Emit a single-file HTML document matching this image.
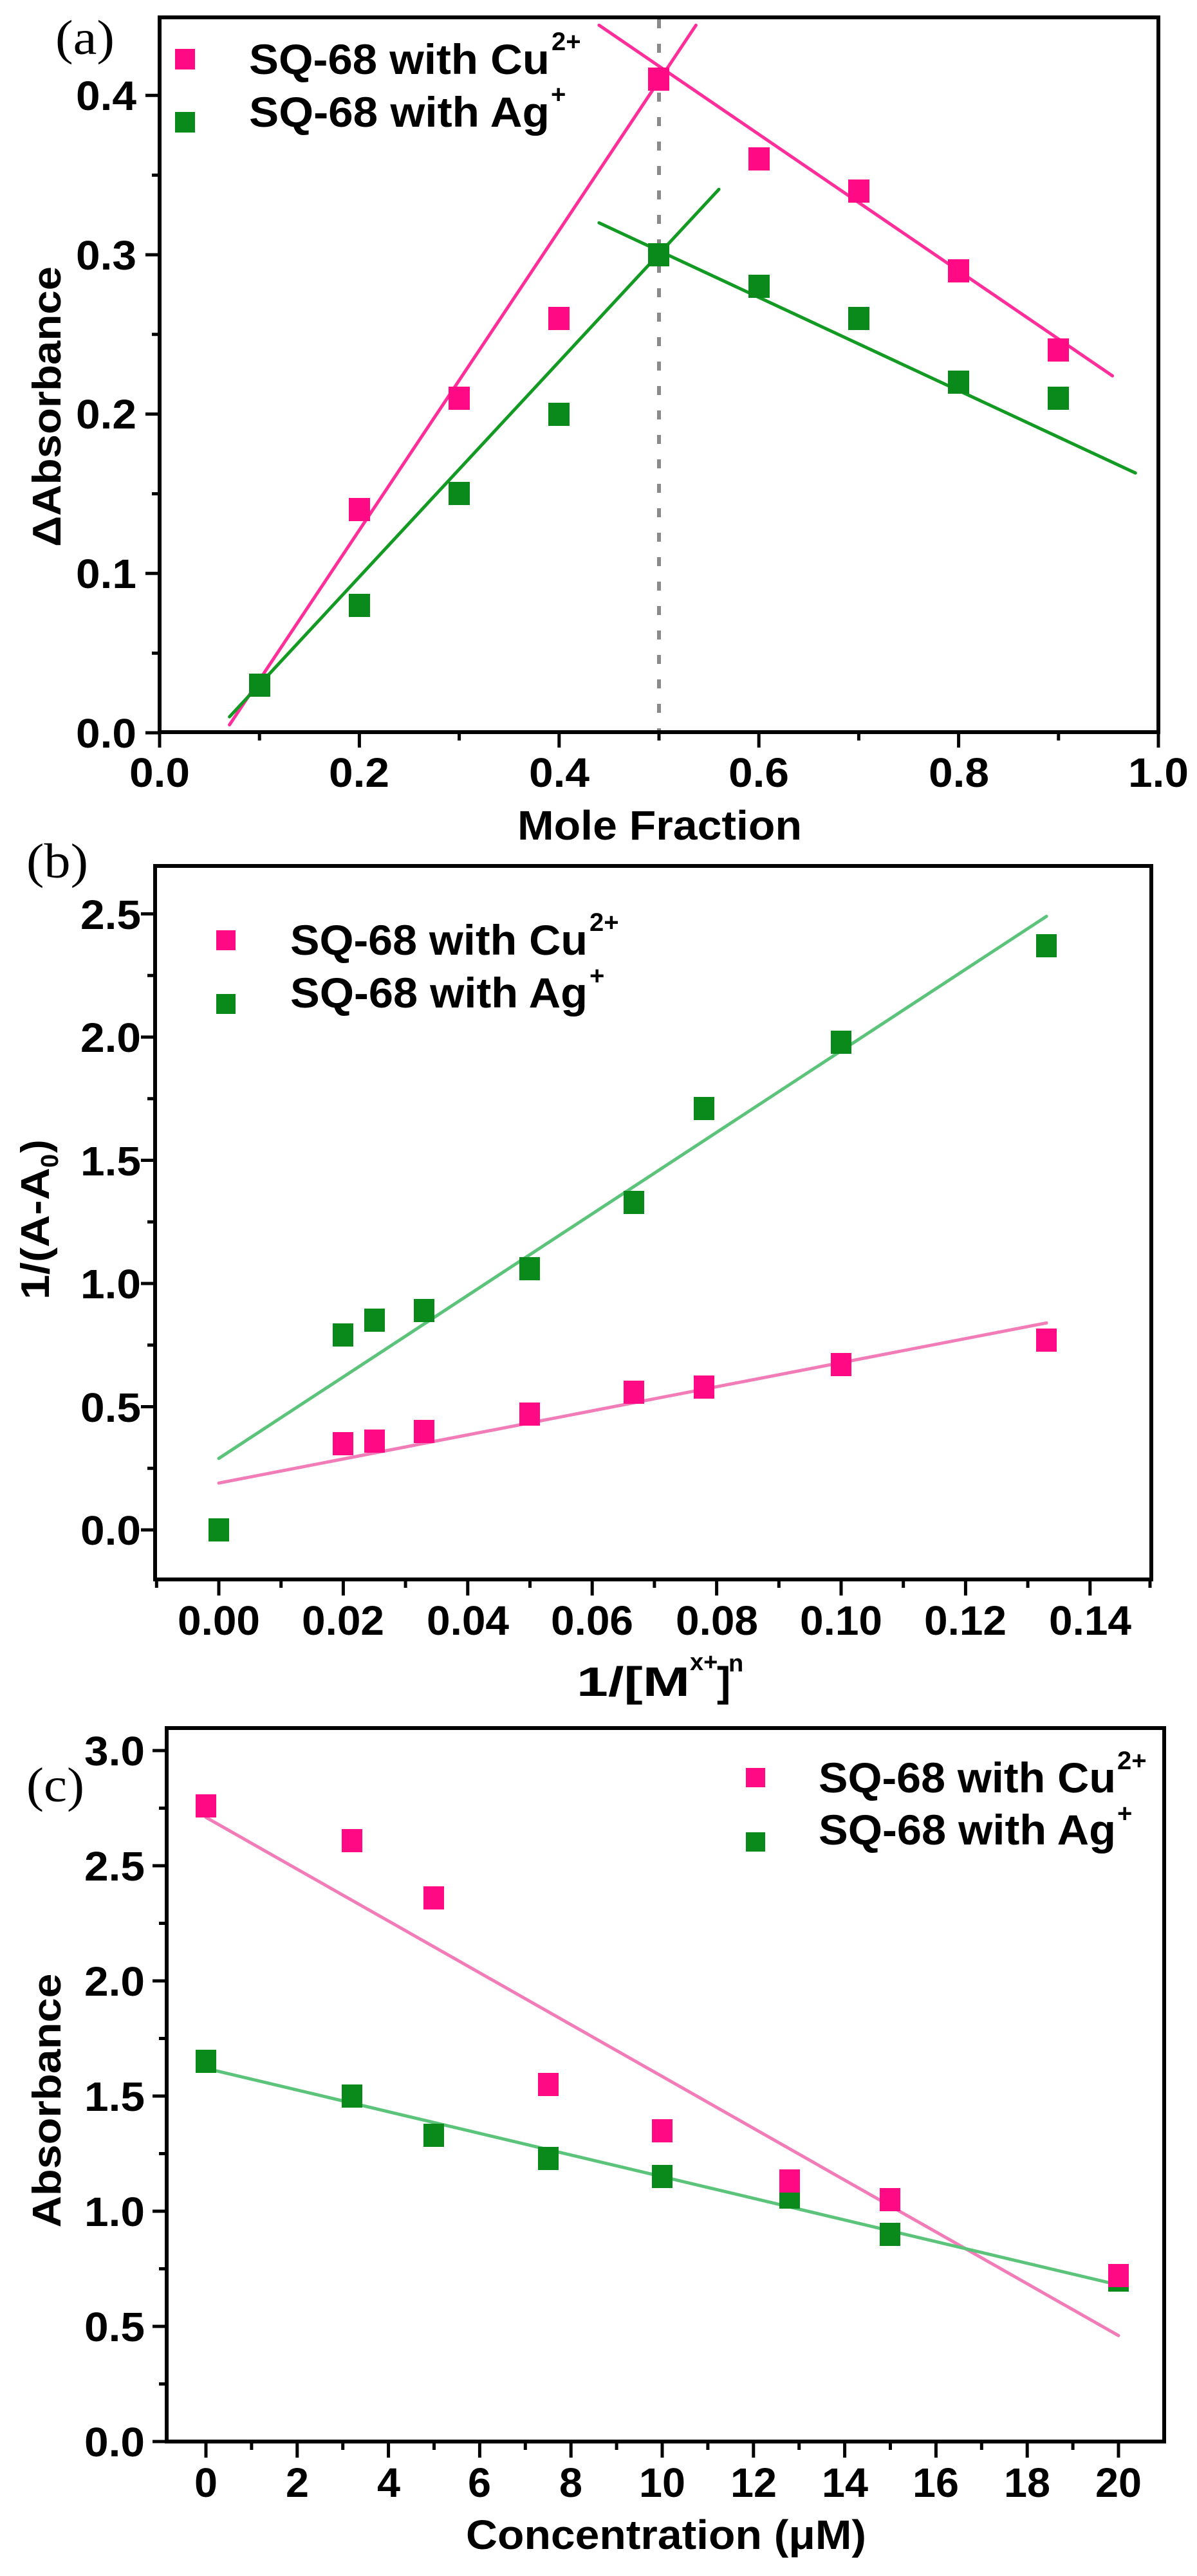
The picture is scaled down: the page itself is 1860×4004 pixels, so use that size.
<!DOCTYPE html>
<html><head><meta charset="utf-8"><style>
html,body{margin:0;padding:0;background:#fff}
svg{display:block}
.t{font-family:"Liberation Sans",sans-serif;font-weight:bold;fill:#000}
.s{font-family:"Liberation Serif",serif;fill:#000}
</style></head><body>
<svg width="1860" height="4004" viewBox="0 0 1860 4004" xmlns="http://www.w3.org/2000/svg">
<rect width="1860" height="4004" fill="#fff"/>

<!-- ================= PANEL A ================= -->
<text class="s" x="86" y="84" font-size="76" textLength="92" lengthAdjust="spacingAndGlyphs">(a)</text>
<line x1="1024" y1="30" x2="1024" y2="1136" stroke="#8a8a8a" stroke-width="6" stroke-dasharray="14 24"/>
<g stroke-linecap="round" stroke-width="5">
<line x1="356.6" y1="1126.6" x2="1081.4" y2="39.2" stroke="#ff2e9a"/>
<line x1="930.9" y1="39.2" x2="1728.6" y2="584.2" stroke="#ff2e9a"/>
<line x1="356.6" y1="1114.2" x2="1117.1" y2="294.3" stroke="#129a22"/>
<line x1="930.9" y1="346.4" x2="1764.3" y2="735.2" stroke="#129a22"/>
</g>
<g fill="#ff0a84">
<rect x="542" y="774" width="33" height="36"/><rect x="697" y="601" width="33" height="36"/>
<rect x="852" y="477" width="33" height="36"/><rect x="1007" y="105" width="33" height="36"/>
<rect x="1163" y="229" width="33" height="36"/><rect x="1318" y="279" width="33" height="36"/>
<rect x="1473" y="403" width="33" height="36"/><rect x="1628" y="526" width="33" height="36"/>
</g>
<g fill="#0a8a1a">
<rect x="387" y="1047" width="33" height="36"/><rect x="542" y="923" width="33" height="36"/>
<rect x="697" y="749" width="33" height="36"/><rect x="852" y="626" width="33" height="36"/>
<rect x="1007" y="378" width="33" height="36"/><rect x="1163" y="427" width="33" height="36"/>
<rect x="1318" y="477" width="33" height="36"/><rect x="1473" y="576" width="33" height="36"/>
<rect x="1628" y="601" width="33" height="36"/>
</g>
<rect x="248" y="27" width="1552" height="1111" fill="none" stroke="#000" stroke-width="6"/>
<path stroke="#000" stroke-width="5" fill="none" d="M226 1139H248M226 891.3H248M226 643.6H248M226 396H248M226 148.2H248M236 1015.2H248M236 767.5H248M236 519.8H248M236 272.2H248
M248 1139V1162M558.4 1139V1162M868.8 1139V1162M1179.2 1139V1162M1489.6 1139V1162M1800 1139V1162M403.2 1139V1151M713.6 1139V1151M1024 1139V1151M1334.4 1139V1151M1644.8 1139V1151"/>
<g class="t" font-size="64" text-anchor="end">
<text x="212" y="1162" textLength="94" lengthAdjust="spacingAndGlyphs">0.0</text>
<text x="212" y="914" textLength="94" lengthAdjust="spacingAndGlyphs">0.1</text>
<text x="212" y="666" textLength="94" lengthAdjust="spacingAndGlyphs">0.2</text>
<text x="212" y="419" textLength="94" lengthAdjust="spacingAndGlyphs">0.3</text>
<text x="212" y="171" textLength="94" lengthAdjust="spacingAndGlyphs">0.4</text>
</g>
<g class="t" font-size="64" text-anchor="middle">
<text x="248" y="1223" textLength="94" lengthAdjust="spacingAndGlyphs">0.0</text>
<text x="558" y="1223" textLength="94" lengthAdjust="spacingAndGlyphs">0.2</text>
<text x="869" y="1223" textLength="94" lengthAdjust="spacingAndGlyphs">0.4</text>
<text x="1179" y="1223" textLength="94" lengthAdjust="spacingAndGlyphs">0.6</text>
<text x="1490" y="1223" textLength="94" lengthAdjust="spacingAndGlyphs">0.8</text>
<text x="1800" y="1223" textLength="94" lengthAdjust="spacingAndGlyphs">1.0</text>
<text x="1025" y="1305" textLength="442" lengthAdjust="spacingAndGlyphs">Mole Fraction</text>
</g>
<text class="t" font-size="62" text-anchor="middle" transform="translate(94,632) rotate(-90)" textLength="436" lengthAdjust="spacingAndGlyphs">ΔAbsorbance</text>
<rect x="272" y="76" width="31" height="32" fill="#ff0a84"/>
<rect x="272" y="174" width="31" height="32" fill="#0a8a1a"/>
<text class="t" x="387" y="115" font-size="66" textLength="467" lengthAdjust="spacingAndGlyphs">SQ-68 with Cu</text>
<text class="t" x="857" y="78" font-size="40">2+</text>
<text class="t" x="387" y="197" font-size="66" textLength="467" lengthAdjust="spacingAndGlyphs">SQ-68 with Ag</text>
<text class="t" x="856" y="160" font-size="40">+</text>

<!-- ================= PANEL B ================= -->
<text class="s" x="41" y="1364" font-size="76" textLength="96" lengthAdjust="spacingAndGlyphs">(b)</text>
<g stroke-linecap="round" stroke-width="5">
<line x1="340" y1="2266.9" x2="1626.1" y2="1424.3" stroke="#5cc47a"/>
<line x1="340" y1="2305.2" x2="1626.1" y2="2056.3" stroke="#f27cb8"/>
</g>
<g fill="#0a8a1a">
<rect x="324" y="2360" width="32" height="36"/><rect x="517" y="2057" width="32" height="36"/>
<rect x="566" y="2034" width="32" height="36"/><rect x="643" y="2019" width="32" height="36"/>
<rect x="807" y="1954" width="32" height="36"/><rect x="969" y="1851" width="32" height="36"/>
<rect x="1078" y="1705" width="32" height="36"/><rect x="1291" y="1602" width="32" height="36"/>
<rect x="1610" y="1452" width="32" height="36"/>
</g>
<g fill="#ff0a84">
<rect x="517" y="2226" width="32" height="36"/><rect x="566" y="2222" width="32" height="36"/>
<rect x="643" y="2207" width="32" height="36"/><rect x="807" y="2180" width="32" height="36"/>
<rect x="969" y="2146" width="32" height="36"/><rect x="1078" y="2138" width="32" height="36"/>
<rect x="1291" y="2103" width="32" height="36"/><rect x="1610" y="2065" width="32" height="36"/>
</g>
<rect x="241" y="1346" width="1548" height="1109" fill="none" stroke="#000" stroke-width="6"/>
<path stroke="#000" stroke-width="5" fill="none" d="M219 2378H241M219 2186.5H241M219 1995H241M219 1803.5H241M219 1612H241M219 1420.5H241M229 2282.3H241M229 2090.8H241M229 1899.3H241M229 1707.8H241M229 1516.3H241
M340 2455V2480M533.4 2455V2480M726.8 2455V2480M920.2 2455V2480M1113.6 2455V2480M1307 2455V2480M1500.4 2455V2480M1693.8 2455V2480
M243.3 2455V2468M436.7 2455V2468M630.1 2455V2468M823.5 2455V2468M1016.9 2455V2468M1210.3 2455V2468M1403.7 2455V2468M1597.1 2455V2468M1787 2455V2468"/>
<g class="t" font-size="64" text-anchor="end">
<text x="219" y="2401" textLength="94" lengthAdjust="spacingAndGlyphs">0.0</text>
<text x="219" y="2210" textLength="94" lengthAdjust="spacingAndGlyphs">0.5</text>
<text x="219" y="2018" textLength="94" lengthAdjust="spacingAndGlyphs">1.0</text>
<text x="219" y="1827" textLength="94" lengthAdjust="spacingAndGlyphs">1.5</text>
<text x="219" y="1635" textLength="94" lengthAdjust="spacingAndGlyphs">2.0</text>
<text x="219" y="1444" textLength="94" lengthAdjust="spacingAndGlyphs">2.5</text>
</g>
<g class="t" font-size="64" text-anchor="middle">
<text x="340" y="2541" textLength="128" lengthAdjust="spacingAndGlyphs">0.00</text>
<text x="533" y="2541" textLength="128" lengthAdjust="spacingAndGlyphs">0.02</text>
<text x="727" y="2541" textLength="128" lengthAdjust="spacingAndGlyphs">0.04</text>
<text x="920" y="2541" textLength="128" lengthAdjust="spacingAndGlyphs">0.06</text>
<text x="1114" y="2541" textLength="128" lengthAdjust="spacingAndGlyphs">0.08</text>
<text x="1307" y="2541" textLength="128" lengthAdjust="spacingAndGlyphs">0.10</text>
<text x="1500" y="2541" textLength="128" lengthAdjust="spacingAndGlyphs">0.12</text>
<text x="1694" y="2541" textLength="128" lengthAdjust="spacingAndGlyphs">0.14</text>
</g>
<text class="t" x="896" y="2636" font-size="64" textLength="176" lengthAdjust="spacingAndGlyphs">1/[M</text>
<text class="t" x="1072" y="2596" font-size="38">x+</text>
<text class="t" x="1114" y="2636" font-size="64">]</text>
<text class="t" x="1132" y="2598" font-size="38">n</text>
<g transform="translate(76,2020) rotate(-90)">
<text class="t" x="0" y="0" font-size="62" textLength="205" lengthAdjust="spacingAndGlyphs">1/(A-A</text>
<text class="t" x="205" y="14" font-size="38">0</text>
<text class="t" x="228" y="0" font-size="62">)</text>
</g>
<rect x="336" y="1446" width="30" height="31" fill="#ff0a84"/>
<rect x="336" y="1545" width="30" height="31" fill="#0a8a1a"/>
<text class="t" x="451" y="1484" font-size="66" textLength="462" lengthAdjust="spacingAndGlyphs">SQ-68 with Cu</text>
<text class="t" x="916" y="1447" font-size="40">2+</text>
<text class="t" x="451" y="1566" font-size="66" textLength="462" lengthAdjust="spacingAndGlyphs">SQ-68 with Ag</text>
<text class="t" x="916" y="1530" font-size="40">+</text>

<!-- ================= PANEL C ================= -->
<text class="s" x="41" y="2800" font-size="76" textLength="90" lengthAdjust="spacingAndGlyphs">(c)</text>
<g stroke-linecap="round" stroke-width="5">
<line x1="320" y1="2824.8" x2="1738" y2="3630.3" stroke="#f27cb8"/>
<line x1="320" y1="3215" x2="1738" y2="3551.6" stroke="#5cc47a"/>
</g>
<g fill="#0a8a1a">
<rect x="304" y="3186" width="32" height="36"/><rect x="531" y="3240" width="32" height="36"/>
<rect x="658" y="3301" width="32" height="36"/><rect x="836" y="3337" width="32" height="36"/>
<rect x="1013" y="3365" width="32" height="36"/><rect x="1211" y="3397" width="32" height="36"/>
<rect x="1367" y="3455" width="32" height="36"/><rect x="1722" y="3526" width="32" height="36"/>
</g>
<g fill="#ff0a84">
<rect x="304" y="2789" width="32" height="36"/><rect x="531" y="2843" width="32" height="36"/>
<rect x="658" y="2932" width="32" height="36"/><rect x="836" y="3222" width="32" height="36"/>
<rect x="1013" y="3294" width="32" height="36"/><rect x="1211" y="3372" width="32" height="36"/>
<rect x="1367" y="3401" width="32" height="36"/><rect x="1722" y="3519" width="32" height="36"/>
</g>
<rect x="259" y="2686" width="1550" height="1109" fill="none" stroke="#000" stroke-width="6"/>
<path stroke="#000" stroke-width="5" fill="none" d="M237 3795H259M237 3616H259M237 3437H259M237 3258H259M237 3079H259M237 2900H259M237 2721H259M247 3705.5H259M247 3526.5H259M247 3347.5H259M247 3168.5H259M247 2989.5H259M247 2810.5H259
M320 3795V3820M461.8 3795V3820M603.6 3795V3820M745.4 3795V3820M887.2 3795V3820M1029 3795V3820M1170.8 3795V3820M1312.6 3795V3820M1454.4 3795V3820M1596.2 3795V3820M1738 3795V3820
M390.9 3795V3808M532.7 3795V3808M674.5 3795V3808M816.3 3795V3808M958.1 3795V3808M1099.9 3795V3808M1241.7 3795V3808M1383.5 3795V3808M1525.3 3795V3808M1667.1 3795V3808"/>
<g class="t" font-size="64" text-anchor="end">
<text x="225" y="3818" textLength="94" lengthAdjust="spacingAndGlyphs">0.0</text>
<text x="225" y="3639" textLength="94" lengthAdjust="spacingAndGlyphs">0.5</text>
<text x="225" y="3460" textLength="94" lengthAdjust="spacingAndGlyphs">1.0</text>
<text x="225" y="3281" textLength="94" lengthAdjust="spacingAndGlyphs">1.5</text>
<text x="225" y="3102" textLength="94" lengthAdjust="spacingAndGlyphs">2.0</text>
<text x="225" y="2923" textLength="94" lengthAdjust="spacingAndGlyphs">2.5</text>
<text x="225" y="2744" textLength="94" lengthAdjust="spacingAndGlyphs">3.0</text>
</g>
<g class="t" font-size="64" text-anchor="middle">
<text x="320" y="3881" textLength="36" lengthAdjust="spacingAndGlyphs">0</text>
<text x="462" y="3881" textLength="36" lengthAdjust="spacingAndGlyphs">2</text>
<text x="604" y="3881" textLength="36" lengthAdjust="spacingAndGlyphs">4</text>
<text x="745" y="3881" textLength="36" lengthAdjust="spacingAndGlyphs">6</text>
<text x="887" y="3881" textLength="36" lengthAdjust="spacingAndGlyphs">8</text>
<text x="1029" y="3881" textLength="72" lengthAdjust="spacingAndGlyphs">10</text>
<text x="1171" y="3881" textLength="72" lengthAdjust="spacingAndGlyphs">12</text>
<text x="1313" y="3881" textLength="72" lengthAdjust="spacingAndGlyphs">14</text>
<text x="1454" y="3881" textLength="72" lengthAdjust="spacingAndGlyphs">16</text>
<text x="1596" y="3881" textLength="72" lengthAdjust="spacingAndGlyphs">18</text>
<text x="1738" y="3881" textLength="72" lengthAdjust="spacingAndGlyphs">20</text>
<text x="1035" y="3962" textLength="622" lengthAdjust="spacingAndGlyphs">Concentration (μM)</text>
</g>
<text class="t" font-size="62" text-anchor="middle" transform="translate(94,3265) rotate(-90)" textLength="395" lengthAdjust="spacingAndGlyphs">Absorbance</text>
<rect x="1159" y="2748" width="30" height="30" fill="#ff0a84"/>
<rect x="1159" y="2848" width="30" height="30" fill="#0a8a1a"/>
<text class="t" x="1272" y="2786" font-size="66" textLength="462" lengthAdjust="spacingAndGlyphs">SQ-68 with Cu</text>
<text class="t" x="1736" y="2750" font-size="40">2+</text>
<text class="t" x="1272" y="2867" font-size="66" textLength="462" lengthAdjust="spacingAndGlyphs">SQ-68 with Ag</text>
<text class="t" x="1736" y="2832" font-size="40">+</text>
</svg>
</body></html>
